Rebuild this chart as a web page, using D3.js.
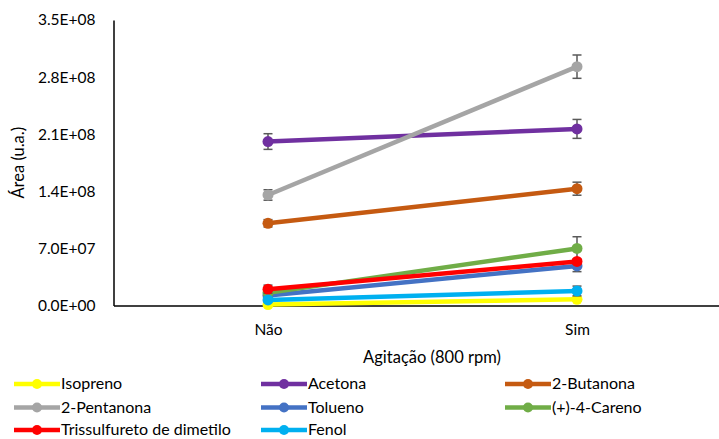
<!DOCTYPE html>
<html>
<head>
<meta charset="utf-8">
<script src="https://cdn.jsdelivr.net/npm/d3@7"></script>
<style>
  html, body { margin: 0; padding: 0; background: #fff; }
  svg { display: block; font-family: Lato, "Open Sans", sans-serif; }
</style>
</head>
<body>
<svg id="chart" width="719" height="439"></svg>
<script>
// Agitation conditions (x categories)
const categories = ["Não", "Sim"];

// Compound names, in drawing order
const seriesNames = ["Isopreno", "Acetona", "2-Butanona", "2-Pentanona",
  "Tolueno", "(+)-4-Careno", "Trissulfureto de dimetilo", "Fenol"];
const seriesColors = ["#FFFF00", "#7030A0", "#C55A11", "#A5A5A5",
  "#4472C4", "#70AD47", "#FF0000", "#00B0F0"];

// Mean peak area per condition [Não, Sim]
const isopreno      = [1.2e6, 7.6e6];
const acetona       = [2.01e8, 2.165e8];
const butanona      = [1.008e8, 1.432e8];
const pentanona     = [1.355e8, 2.928e8];
const tolueno       = [1.23e7, 4.85e7];
const careno        = [1.55e7, 7.0e7];
const trissulfureto = [2.0e7, 5.4e7];
const fenol         = [6.8e6, 1.78e7];

// Standard deviations [Não, Sim]
const isoprenoErr      = [1.0e6, 2.0e6];
const acetonaErr       = [9.6e6, 1.16e7];
const butanonaErr      = [4.5e6, 8.0e6];
const pentanonaErr     = [6.4e6, 1.43e7];
const toluenoErr       = [3.0e6, 7.0e6];
const carenoErr        = [3.0e6, 1.43e7];
const trissulfuretoErr = [5.0e6, 3.0e6];
const fenolErr         = [2.0e6, 6.0e6];

// Y axis tick values
const yTicks = [0, 7e7, 1.4e8, 2.1e8, 2.8e8, 3.5e8];

const values = [isopreno, acetona, butanona, pentanona, tolueno, careno, trissulfureto, fenol];
const errors = [isoprenoErr, acetonaErr, butanonaErr, pentanonaErr, toluenoErr, carenoErr, trissulfuretoErr, fenolErr];
const series = seriesNames.map((name, i) => ({
  name, color: seriesColors[i],
  points: categories.map((c, j) => ({ c, v: values[i][j], e: errors[i][j] }))
}));

const svg = d3.select("#chart");
const plotLeft = 113.5, plotRight = 731.5, plotTop = 20, plotBottom = 305.5;

const x = d3.scalePoint().domain(categories).range([plotLeft, plotRight]).padding(0.5);
const y = d3.scaleLinear().domain([0, 3.5e8]).range([plotBottom, plotTop]);

// Scientific tick format like 7.0E+07
const sci = v => {
  if (v === 0) return "0.0E+00";
  const exp = Math.floor(Math.log10(v));
  const m = v / Math.pow(10, exp);
  return m.toFixed(1) + "E+" + String(exp).padStart(2, "0");
};

// Y axis
const yAxis = svg.append("g")
  .attr("transform", `translate(${plotLeft},0)`)
  .call(d3.axisLeft(y).tickValues(yTicks).tickFormat(sci).tickSize(0).tickPadding(18));
yAxis.select(".domain").attr("stroke", "#000").attr("stroke-width", 1.5);
yAxis.selectAll("text").attr("font-size", 15.5).attr("fill", "#000")
  .attr("font-family", "Lato, sans-serif");

// X axis
const xAxis = svg.append("g")
  .attr("transform", `translate(0,${plotBottom})`)
  .call(d3.axisBottom(x).tickSize(0).tickPadding(18));
xAxis.select(".domain").attr("stroke", "#000").attr("stroke-width", 1.5);
xAxis.selectAll("text").attr("font-size", 15.5).attr("fill", "#000")
  .attr("font-family", "Lato, sans-serif");

// Axis titles
svg.append("text")
  .attr("transform", `translate(24,${(plotTop + plotBottom) / 2}) rotate(-90)`)
  .attr("text-anchor", "middle")
  .attr("font-size", 16.5)
  .text("Área (u.a.)");
svg.append("text")
  .attr("x", 432).attr("y", 363)
  .attr("text-anchor", "middle")
  .attr("font-size", 16.5)
  .text("Agitação (800 rpm)");

// Series: error bars, lines and markers
const line = d3.line().x(d => x(d.c)).y(d => y(d.v));
const capW = 4.5;
series.forEach(s => {
  const g = svg.append("g");
  const eb = g.selectAll(".eb").data(s.points).join("g").attr("stroke", "#595959").attr("stroke-width", 1.5);
  eb.append("line").attr("x1", d => x(d.c)).attr("x2", d => x(d.c))
    .attr("y1", d => y(d.v + d.e)).attr("y2", d => y(d.v - d.e));
  eb.append("line").attr("x1", d => x(d.c) - capW).attr("x2", d => x(d.c) + capW)
    .attr("y1", d => y(d.v + d.e)).attr("y2", d => y(d.v + d.e));
  eb.append("line").attr("x1", d => x(d.c) - capW).attr("x2", d => x(d.c) + capW)
    .attr("y1", d => y(d.v - d.e)).attr("y2", d => y(d.v - d.e));
  g.append("path").datum(s.points).attr("d", line)
    .attr("fill", "none").attr("stroke", s.color).attr("stroke-width", 4.5);
  g.selectAll("circle").data(s.points).join("circle")
    .attr("cx", d => x(d.c)).attr("cy", d => y(d.v)).attr("r", 5.5)
    .attr("fill", s.color);
});

// Legend: three columns, three rows
const legCols = [14, 261, 505];
const legRows = [384, 407.5, 430];
const leg = svg.append("g");
series.forEach((s, i) => {
  const lx = legCols[i % 3], ly = legRows[Math.floor(i / 3)];
  const item = leg.append("g").attr("transform", `translate(${lx},${ly})`);
  item.append("line").attr("x1", 0).attr("x2", 46).attr("y1", 0).attr("y2", 0)
    .attr("stroke", s.color).attr("stroke-width", 4.5);
  item.append("circle").attr("cx", 23).attr("cy", 0).attr("r", 5).attr("fill", s.color);
  item.append("text").attr("x", 47).attr("y", 0).attr("dy", "0.34em")
    .attr("font-size", 16).text(s.name);
});
</script>
</body>
</html>
